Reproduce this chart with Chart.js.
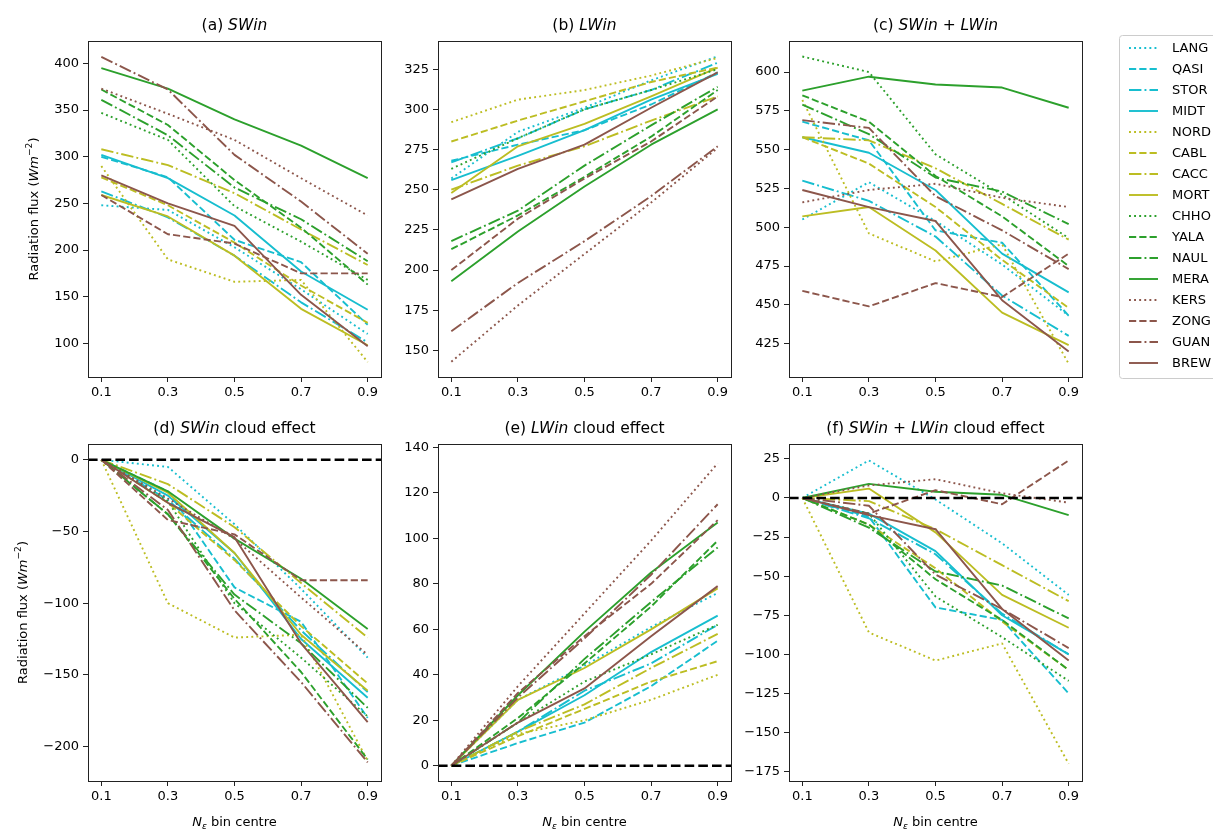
<!DOCTYPE html>
<html>
<head>
<meta charset="utf-8">
<script src="https://cdn.jsdelivr.net/npm/chart.js@4.4.1/dist/chart.umd.min.js"></script>
<style>
  html, body { margin: 0; padding: 0; background: #fff; }
  #fig { position: relative; width: 1213px; height: 829px; overflow: hidden; background: #fff; }
  #fig canvas { position: absolute; }
</style>
</head>
<body>
<div id="fig"></div>
<script>
// Datos (una fila por estacion, una columna por bin)
const binCentres = [0.1, 0.3, 0.5, 0.7, 0.9];
const stations = ['LANG', 'QASI', 'STOR', 'MIDT', 'NORD', 'CABL', 'CACC', 'MORT',
                  'CHHO', 'YALA', 'NAUL', 'MERA', 'KERS', 'ZONG', 'GUAN', 'BREW'];

const swin = [
  [248, 243, 203, 158, 110], [300, 278, 211, 187, 120], [263, 235, 194, 144, 101], [302, 277, 237, 177, 136],
  [290, 190, 166, 168, 80],  [278, 248, 208, 162, 122], [308, 291, 261, 222, 184], [259, 236, 194, 137, 98],
  [347, 318, 247, 209, 168], [372, 334, 275, 224, 163], [361, 323, 267, 233, 188], [395, 373, 340, 312, 277],
  [373, 346, 318, 277, 237], [259, 217, 207, 175, 175], [407, 372, 302, 252, 196], [280, 250, 226, 152, 97]
];
const lwin = [
  [257, 286, 301, 318, 333], [268, 278, 287, 303, 323], [267, 282, 300, 312, 329], [256, 271, 287, 306, 322],
  [292, 306, 312, 321, 332], [280, 293, 305, 317, 326], [250, 265, 277, 293, 308], [248, 277, 291, 308, 326],
  [263, 282, 300, 312, 325], [213, 234, 258, 283, 312], [218, 237, 265, 290, 314], [193, 224, 252, 278, 300],
  [143, 178, 210, 242, 276], [200, 232, 257, 280, 308], [162, 192, 218, 246, 277], [244, 263, 278, 301, 323]
];
const swlw = [
  [505, 529, 504, 476, 443], [568, 556, 498, 490, 443], [530, 517, 494, 456, 430], [558, 548, 524, 483, 458],
  [582, 496, 478, 489, 412], [558, 541, 513, 479, 448], [558, 556, 538, 515, 492], [507, 513, 485, 445, 424],
  [610, 600, 547, 521, 493], [585, 568, 533, 507, 475], [579, 560, 532, 523, 502], [588, 597, 592, 590, 577],
  [516, 524, 528, 519, 513], [459, 449, 464, 455, 483], [569, 564, 520, 498, 473], [524, 513, 504, 453, 420]
];
const swinEffect = [
  [0, -5, -45, -90, -138],  [0, -22, -89, -113, -180], [0, -28, -69, -119, -162], [0, -25, -65, -125, -166],
  [0, -100, -124, -122, -210], [0, -30, -70, -116, -156], [0, -17, -47, -86, -124], [0, -23, -65, -122, -161],
  [0, -29, -100, -138, -179], [0, -38, -97, -148, -209], [0, -38, -94, -128, -173], [0, -22, -55, -83, -118],
  [0, -27, -55, -96, -136], [0, -42, -52, -84, -84],   [0, -35, -105, -155, -211], [0, -30, -54, -128, -183]
];
const lwinEffect = [
  [0, 29, 44, 61, 76], [0, 10, 19, 35, 55], [0, 15, 33, 45, 62], [0, 15, 31, 50, 66],
  [0, 14, 20, 29, 40], [0, 13, 25, 37, 46], [0, 15, 27, 43, 58], [0, 29, 43, 60, 78],
  [0, 19, 37, 49, 62], [0, 21, 45, 70, 99], [0, 19, 47, 72, 96], [0, 31, 59, 85, 107],
  [0, 35, 67, 99, 133], [0, 32, 57, 80, 108], [0, 30, 56, 84, 115], [0, 19, 34, 57, 79]
];
const swlwEffect = [
  [0, 24, -1, -29, -62], [0, -12, -70, -78, -125], [0, -13, -36, -74, -100], [0, -10, -34, -75, -100],
  [0, -86, -104, -93, -170], [0, -17, -45, -79, -110], [0, -2, -20, -43, -66], [0, 6, -22, -62, -83],
  [0, -10, -63, -89, -117], [0, -17, -52, -78, -110], [0, -19, -47, -56, -77], [0, 9, 4, 2, -11],
  [0, 8, 12, 3, -3], [0, -10, 5, -4, 24], [0, -5, -49, -71, -96], [0, -11, -20, -71, -104]
];

// Etiquetas de los ejes
const xTicks = [0.1, 0.3, 0.5, 0.7, 0.9];
const ticksSW = [100, 150, 200, 250, 300, 350, 400];
const ticksLW = [150, 175, 200, 225, 250, 275, 300, 325];
const ticksTot = [425, 450, 475, 500, 525, 550, 575, 600];
const ticksSWce = [-200, -150, -100, -50, 0];
const ticksLWce = [0, 20, 40, 60, 80, 100, 120, 140];
const ticksTotce = [-175, -150, -125, -100, -75, -50, -25, 0, 25];

// Estilos (colores por grupo, trazo por estacion dentro del grupo)
const familyColours = ['#17becf', '#bcbd22', '#2ca02c', '#8c564b'];
const dashes = [[1.9, 3.2], [7.2, 3.1], [12.4, 3.1, 1.9, 3.1], []];
const FONT = '"DejaVu Sans", sans-serif';

const fig = document.getElementById('fig');

// Texto con partes en cursiva / superindice / subindice
function textoRico(ctx, partes, cx, cy, size, angle) {
    ctx.save();
    ctx.translate(cx, cy);
    if (angle) ctx.rotate(angle);
    const fuente = p => `${p.it ? 'italic ' : ''}${(p.sup || p.sub) ? size * 0.7 : size}px ${FONT}`;
    let total = 0;
    const anchos = partes.map(p => { ctx.font = fuente(p); const w = ctx.measureText(p.t).width; total += w; return w; });
    let x = -total / 2;
    ctx.fillStyle = '#000';
    ctx.textBaseline = 'alphabetic';
    ctx.textAlign = 'left';
    partes.forEach((p, i) => {
        ctx.font = fuente(p);
        let y = size * 0.36;
        if (p.sup) y -= size * 0.42;
        if (p.sub) y += size * 0.22;
        ctx.fillText(p.t, x, y);
        x += anchos[i];
    });
    ctx.restore();
}

const labelY = [{t: 'Radiation flux ('}, {t: 'Wm', it: true}, {t: '\u22122', sup: true}, {t: ')'}];
const labelX = [{t: 'N', it: true}, {t: '\u03b5', it: true, sub: true}, {t: ' bin centre'}];

const panels = [
    { values: swin, ticks: ticksSW, min: 64, max: 424, rect: {l: 88, t: 41, r: 381, b: 377},
      title: [{t: '(a) '}, {t: 'SWin', it: true}], ylab: 25 },
    { values: lwin, ticks: ticksLW, min: 133.5, max: 342.5, rect: {l: 438, t: 41, r: 731, b: 377},
      title: [{t: '(b) '}, {t: 'LWin', it: true}] },
    { values: swlw, ticks: ticksTot, min: 403.5, max: 620, rect: {l: 789, t: 41, r: 1082, b: 377},
      title: [{t: '(c) '}, {t: 'SWin', it: true}, {t: ' + '}, {t: 'LWin', it: true}] },
    { values: swinEffect, ticks: ticksSWce, min: -224, max: 11, rect: {l: 88, t: 444, r: 381, b: 781},
      title: [{t: '(d) '}, {t: 'SWin', it: true}, {t: ' cloud effect'}], ylab: 14, xlab: true, zero: true },
    { values: lwinEffect, ticks: ticksLWce, min: -6.7, max: 141.5, rect: {l: 438, t: 444, r: 731, b: 781},
      title: [{t: '(e) '}, {t: 'LWin', it: true}, {t: ' cloud effect'}], xlab: true, zero: true },
    { values: swlwEffect, ticks: ticksTotce, min: -181, max: 34.5, rect: {l: 789, t: 444, r: 1082, b: 781},
      title: [{t: '(f) '}, {t: 'SWin', it: true}, {t: ' + '}, {t: 'LWin', it: true}, {t: ' cloud effect'}], xlab: true, zero: true }
];

const padL = 80, padT = 40, padR = 15, padB = 50;

// Plugin: marco, linea de cero y textos
const marcoPlugin = {
    id: 'marco',
    afterDatasetsDraw(chart, args, opts) {
        const a = chart.chartArea;
        const ctx = chart.ctx;
        if (opts.zero) {
            const y0 = chart.scales.y.getPixelForValue(0);
            ctx.save();
            ctx.strokeStyle = '#000';
            ctx.lineWidth = 2.6;
            ctx.setLineDash([9.6, 4.1]);
            ctx.beginPath();
            ctx.moveTo(a.left, y0);
            ctx.lineTo(a.right, y0);
            ctx.stroke();
            ctx.restore();
        }
    },
    afterDraw(chart, args, opts) {
        const a = chart.chartArea;
        const ctx = chart.ctx;
        ctx.save();
        ctx.strokeStyle = '#222';
        ctx.lineWidth = 1;
        ctx.strokeRect(Math.round(a.left) + 0.5, Math.round(a.top) + 0.5,
                       Math.round(a.right - a.left), Math.round(a.bottom - a.top));
        ctx.restore();
        const cx = (a.left + a.right) / 2;
        textoRico(ctx, opts.title, cx, a.top - 17, 15.5);
        if (opts.ylab !== undefined) textoRico(ctx, labelY, opts.ylab, (a.top + a.bottom) / 2, 13, -Math.PI / 2);
        if (opts.xlab) textoRico(ctx, labelX, cx, a.bottom + 40, 13);
    }
};

function formatoTick(v) {
    return v < 0 ? '\u2212' + Math.abs(v) : String(v);
}

function crearPanel(panel) {
    const p = panel.rect;
    const canvas = document.createElement('canvas');
    canvas.width = (p.r - p.l) + padL + padR;
    canvas.height = (p.b - p.t) + padT + padB;
    canvas.style.left = (p.l - padL) + 'px';
    canvas.style.top = (p.t - padT) + 'px';
    fig.appendChild(canvas);

    const datasets = stations.map((name, i) => ({
        label: name,
        data: binCentres.map((x, j) => ({ x: x, y: panel.values[i][j] })),
        borderColor: familyColours[Math.floor(i / 4)],
        borderDash: dashes[i % 4],
        borderWidth: 1.9,
        borderCapStyle: 'butt',
        borderJoinStyle: 'round',
        pointRadius: 0,
        tension: 0,
        fill: false,
        order: stations.length - i
    }));

    const ejeComun = {
        grid: { drawOnChartArea: false, drawTicks: true, tickLength: 5, color: '#222', lineWidth: 1 },
        border: { display: false }
    };

    new Chart(canvas.getContext('2d'), {
        type: 'line',
        data: { datasets: datasets },
        options: {
            responsive: false,
            animation: false,
            events: [],
            layout: { padding: { top: padT, right: padR, left: 0, bottom: 0 } },
            plugins: {
                legend: { display: false },
                tooltip: { enabled: false },
                marco: { title: panel.title, ylab: panel.ylab, xlab: panel.xlab, zero: panel.zero }
            },
            scales: {
                x: Object.assign({}, ejeComun, {
                    type: 'linear', min: 0.06, max: 0.94,
                    afterBuildTicks: axis => { axis.ticks = xTicks.map(v => ({ value: v })); },
                    afterFit: axis => { axis.height = padB; },
                    ticks: { callback: v => v.toFixed(1), font: { family: FONT, size: 13 }, color: '#000',
                             padding: 3, maxRotation: 0, autoSkip: false }
                }),
                y: Object.assign({}, ejeComun, {
                    type: 'linear', min: panel.min, max: panel.max,
                    afterBuildTicks: axis => { axis.ticks = panel.ticks.map(v => ({ value: v })); },
                    afterFit: axis => { axis.width = padL; },
                    ticks: { callback: formatoTick, font: { family: FONT, size: 13 }, color: '#000',
                             padding: 4, autoSkip: false }
                })
            }
        },
        plugins: [marcoPlugin]
    });
}

panels.forEach(crearPanel);

// Leyenda a la derecha (recortada por el borde de la figura)
function dibujarLeyenda() {
    const c = document.createElement('canvas');
    c.width = 100; c.height = 344;
    c.style.left = '1119px'; c.style.top = '35px';
    fig.appendChild(c);
    const ctx = c.getContext('2d');
    ctx.fillStyle = 'rgba(255,255,255,0.8)';
    ctx.strokeStyle = '#cccccc';
    ctx.lineWidth = 1;
    ctx.beginPath();
    ctx.roundRect(0.5, 0.5, 140, c.height - 1, 3);
    ctx.fill();
    ctx.stroke();
    stations.forEach((name, i) => {
        const y = 13 + i * 21;
        ctx.save();
        ctx.strokeStyle = familyColours[Math.floor(i / 4)];
        ctx.lineWidth = 1.9;
        ctx.setLineDash(dashes[i % 4]);
        ctx.beginPath();
        ctx.moveTo(10, y);
        ctx.lineTo(39, y);
        ctx.stroke();
        ctx.restore();
        ctx.fillStyle = '#000';
        ctx.font = `13px ${FONT}`;
        ctx.textBaseline = 'middle';
        ctx.fillText(name, 53, y + 0.5);
    });
}

dibujarLeyenda();
</script>
</body>
</html>
